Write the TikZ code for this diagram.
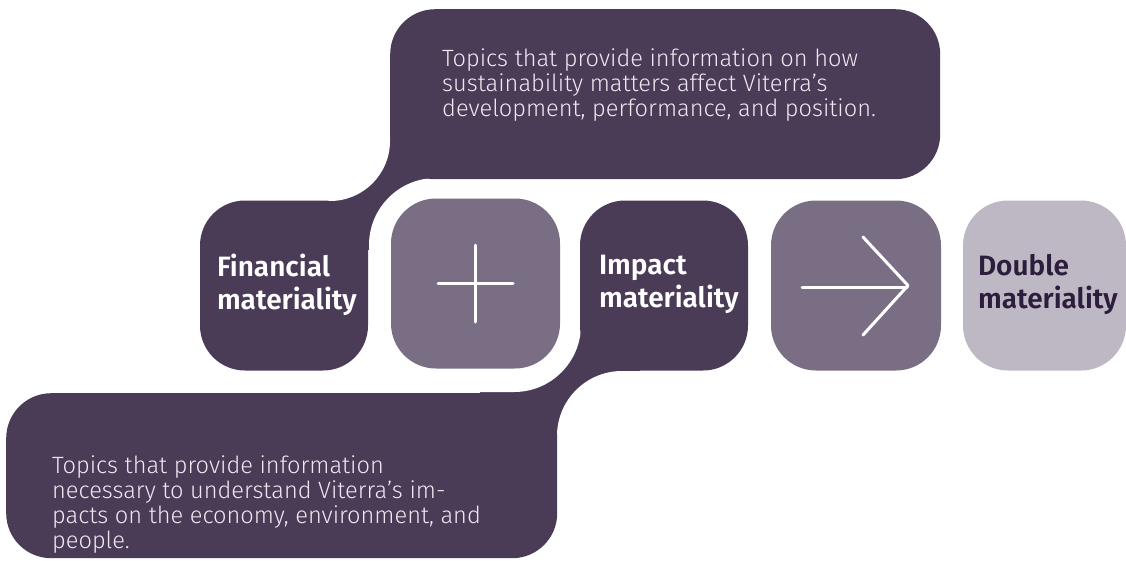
\documentclass[tikz,border=0pt]{standalone}
\usepackage{fontspec}
\setmainfont{Fira Sans Light}[BoldFont={Fira Sans SemiBold}]
\definecolor{dk}{HTML}{4A3B57}
\definecolor{md}{HTML}{7A6E85}
\definecolor{lt}{HTML}{BEB7C4}
\definecolor{txt}{HTML}{ECE8F0}
\definecolor{dtxt}{HTML}{2B1D3B}
\begin{document}
\begin{tikzpicture}[x=1pt,y=-1pt,
  box/.style={rounded corners=45pt, minimum height=170pt, inner sep=0pt, draw=none},
  lbl/.style={anchor=west, align=left, inner sep=0pt, font=\fontsize{28}{33}\selectfont\bfseries},
  para/.style={anchor=north west, align=left, inner sep=0pt, text=txt, font=\fontsize{23.6}{25}\selectfont},
  glyph/.style={draw=white, line width=3pt, line cap=round, line join=round}]
\useasboundingbox (0,0) rectangle (1126,560);
\clip (0,0) rectangle (1126,560);
% connecting areas
\fill[dk] (300,130) rectangle (450,250);
\fill[dk] (480,300) rectangle (640,450);
% white cut-outs
\fill[white, rounded corners=60pt] (-200,-200) rectangle (390,201);
\fill[white, rounded corners=65pt] (557,371) rectangle (1000,900);
\fill[white, rounded corners=67pt] (369,178) rectangle (581,392);
% bubbles
\node[box, fill=dk, anchor=north west, minimum width=550pt] (topb) at (390,9) {};
\node[box, fill=dk, anchor=north west, minimum width=551pt, minimum height=165pt] (botb) at (6,393) {};
% boxes
\node[box, fill=dk, minimum width=168pt] (fin) at (284,285.5) {};
\node[box, fill=md, minimum width=169pt] (plus) at (475.5,283.5) {};
\node[box, fill=dk, minimum width=168pt] (imp) at (664,285.5) {};
\node[box, fill=md, minimum width=170pt] (arr) at (856,285.5) {};
\node[box, fill=lt, minimum width=163pt] (dbl) at (1044.5,285.5) {};
% labels
\node[lbl, text=white] (finl) at ([xshift=17pt,yshift=1pt]fin.west) {Financial\\materiality};
\node[lbl, text=white] (impl) at ([xshift=19pt,yshift=1pt]imp.west) {Impact\\materiality};
\node[lbl, text=dtxt] (dbll) at ([xshift=15pt,yshift=1pt]dbl.west) {Double\\materiality};
% glyphs
\draw[glyph] (plus.center) ++(-37.5,0) -- ++(75,0);
\draw[glyph] (plus.center) ++(0,-38.5) -- ++(0,77);
\draw[glyph] (arr.center) ++(-54,1.5) -- ++(105,0);
\draw[glyph] (arr.center) ++(7,-48.5) -- ++(45,48.5) -- ++(-45,49.5);
% paragraphs
\node[para] (topt) at (442,49) {Topics that provide information on how\\sustainability matters affect Viterra’s\\development, performance, and position.};
\node[para] (bott) at (52,456) {Topics that provide information\\necessary to understand Viterra’s im-\\pacts on the economy, environment, and\\people.};
\end{tikzpicture}
\end{document}
